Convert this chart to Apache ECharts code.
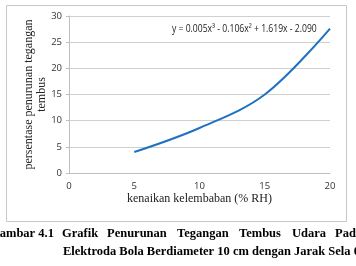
<!DOCTYPE html>
<html>
<head>
<meta charset="utf-8">
<script src="https://cdn.jsdelivr.net/npm/echarts@6/dist/echarts.min.js"></script>
<style>
html, body { margin: 0; padding: 0; background: #fff; }
#chart { width: 356px; height: 266px; }
</style>
</head>
<body>
<div id="chart"></div>
<script>
// kenaikan kelembaban (% RH) vs persentase penurunan tegangan tembus
var humidity = [5, 10, 15, 20];
var dropPercent = [4.0, 8.6, 15.0, 27.6];
var yTicks = [0, 5, 10, 15, 20, 25, 30];
var xTicks = [0, 5, 10, 15, 20];
var equation = 'y = 0.005x\u00b3 - 0.106x\u00b2 + 1.619x - 2.090';

// caption (justified first line, second line hanging)
var caption1 = [['Gambar 4.1', -10], ['Grafik', 62], ['Penurunan', 107], ['Tegangan', 177],
    ['Tembus', 239], ['Udara', 292], ['Pada', 335]];
var caption2 = 'Elektroda Bola Berdiameter 10 cm dengan Jarak Sela 0,5 cm';

var seriesData = [];
for (var i = 0; i < humidity.length; i++) {
    seriesData.push([humidity[i], dropPercent[i]]);
}

var capFont = 'bold 12.5px "Liberation Serif", "Times New Roman", serif';
var graphics = [
    {
        type: 'rect',
        shape: {x: 6.5, y: 5.5, width: 340, height: 216},
        style: {fill: 'none', stroke: '#c8c8c8', lineWidth: 1},
        silent: true
    },
    {
        type: 'text',
        x: 172, y: 24, scaleX: 0.86,
        style: {text: equation, font: '10px "Open Sans", sans-serif', fill: '#222'}
    }
];
caption1.forEach(function (w) {
    graphics.push({type: 'text', x: w[1], y: 227, style: {text: w[0], font: capFont, fill: '#000'}});
});
graphics.push({type: 'text', x: 63, y: 245, style: {text: caption2, font: capFont, fill: '#000'}});

var myChart = echarts.init(document.getElementById('chart'));
var option = {
    animation: false,
    grid: {left: 69, right: 26, top: 16, bottom: 93, containLabel: false},
    xAxis: {
        type: 'value',
        min: xTicks[0],
        max: xTicks[xTicks.length - 1],
        interval: 5,
        name: 'kenaikan kelembaban (% RH)',
        nameLocation: 'middle',
        nameGap: 20,
        nameMoveOverlap: false,
        nameTextStyle: {fontFamily: '"Liberation Serif", serif', fontSize: 12, color: '#222'},
        axisLine: {show: true, lineStyle: {color: '#bfbfbf', width: 1}},
        axisTick: {show: false},
        splitLine: {show: false},
        axisLabel: {margin: 8, fontFamily: '"Open Sans", sans-serif', fontSize: 9.5, color: '#333'}
    },
    yAxis: {
        type: 'value',
        min: yTicks[0],
        max: yTicks[yTicks.length - 1],
        interval: 5,
        name: 'persentase penurunan tegangan\ntembus',
        nameLocation: 'middle',
        nameGap: 21,
        nameMoveOverlap: false,
        nameRotate: 90,
        nameTextStyle: {fontFamily: '"Liberation Serif", serif', fontSize: 12, color: '#222', lineHeight: 13},
        axisLine: {show: true, lineStyle: {color: '#bfbfbf', width: 1}},
        axisTick: {show: true, length: 3, lineStyle: {color: '#bfbfbf'}},
        splitLine: {show: true, lineStyle: {color: '#d0d0d0', width: 1}},
        axisLabel: {margin: 7, fontFamily: '"Open Sans", sans-serif', fontSize: 9.5, color: '#333'}
    },
    series: [
        {
            type: 'line',
            data: seriesData,
            smooth: 0.35,
            showSymbol: false,
            lineStyle: {color: '#1f72c0', width: 2}
        }
    ],
    graphic: graphics
};
myChart.setOption(option);
</script>
</body>
</html>
